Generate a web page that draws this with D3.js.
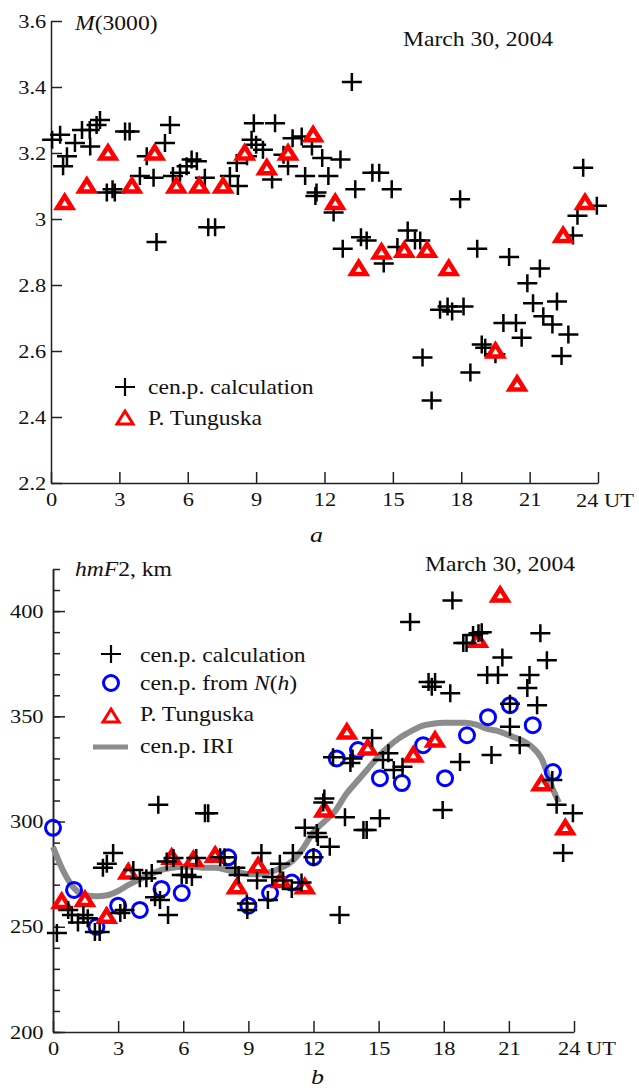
<!DOCTYPE html>
<html>
<head>
<meta charset="utf-8">
<script src="https://cdn.jsdelivr.net/npm/d3@7"></script>
<style>
  body { margin: 0; background: #fff; }
  text { font-family: "Liberation Serif", "DejaVu Serif", serif; fill: #111; }
</style>
</head>
<body>
<div id="chart-area"></div>
<script>
// ---- Data: panel a, M(3000) ----
const hoursA_calc = [0.05, 0.4, 0.53, 0.7, 1.05, 1.36, 1.7, 1.72, 2.0, 2.15, 2.45, 2.7, 2.8, 3.25, 3.45, 3.9, 4.2, 4.5, 4.63, 5.0,
  5.22, 5.35, 5.66, 5.95, 6.17, 6.4, 6.75, 6.9, 7.2, 7.85, 8.15, 8.2, 8.6, 8.8, 8.9, 9.0, 9.3, 9.7, 9.83, 10.2,
  10.4, 10.6, 11.0, 11.15, 11.45, 11.6, 11.65, 11.9, 12.17, 12.4, 12.7, 12.8, 13.2, 13.35, 13.6, 13.85, 14.1, 14.4, 14.6, 14.95,
  15.2, 15.65, 15.97, 16.2, 16.3, 16.7, 17.07, 17.4, 17.6, 17.95, 18.1, 18.4, 18.7, 18.9, 19.05, 19.5, 19.85, 20.1, 20.4, 20.65,
  20.9, 21.15, 21.45, 21.6, 22.0, 22.2, 22.4, 22.7, 22.9, 23.1, 23.35, 23.95]
const m3000_calc = [3.24, 3.255, 3.16, 3.19, 3.23, 3.27, 3.27, 3.22, 3.285, 3.30, 3.08, 3.09, 3.08, 3.265, 3.265, 3.13, 3.19, 3.125, 2.93, 3.23,
  3.285, 3.13, 3.14, 3.16, 3.18, 3.175, 3.125, 2.975, 2.975, 3.13, 3.17, 3.10, 3.19, 3.24, 3.29, 3.225, 3.21, 3.12, 3.29, 3.195,
  3.16, 3.245, 3.25, 3.13, 3.22, 3.07, 3.08, 3.185, 3.13, 3.02, 3.18, 2.91, 3.415, 3.09, 2.945, 2.935, 3.14, 3.14, 2.865, 3.09,
  2.915, 2.965, 2.935, 2.935, 2.58, 2.45, 2.725, 2.735, 2.72, 3.06, 2.735, 2.535, 2.91, 2.62, 2.61, 2.59, 2.685, 2.885, 2.685, 2.64,
  2.805, 2.745, 2.85, 2.705, 2.68, 2.75, 2.585, 2.65, 2.95, 3.01, 3.155, 3.04]

const hoursA_tung = [0.6, 1.57, 2.5, 3.55, 4.55, 5.5, 6.5, 7.55, 8.5, 9.47, 10.4, 11.5, 12.47, 13.5, 14.5, 15.5, 16.5, 17.45, 19.5, 20.45, 22.47, 23.43]
const m3000_tung = [3.05, 3.10, 3.20, 3.10, 3.20, 3.10, 3.10, 3.10, 3.20, 3.155, 3.20, 3.255, 3.05, 2.85, 2.90, 2.905, 2.905, 2.85, 2.60, 2.50, 2.95, 3.05]

// ---- Data: panel b, hmF2 ----
const hoursB_calc = [0.18, 0.7, 0.87, 1.15, 1.4, 1.6, 1.93, 2.15, 2.3, 2.48, 2.77, 3.1, 3.3, 3.7, 4.0, 4.3, 4.55, 4.7, 4.85, 4.93,
  5.24, 5.3, 5.55, 5.93, 6.15, 6.4, 6.6, 7.0, 7.15, 7.7, 7.9, 8.4, 8.55, 8.93, 8.95, 9.4, 9.6, 9.9, 10.1, 10.45,
  10.6, 11.0, 11.05, 11.45, 11.6, 12.0, 12.15, 12.2, 12.45, 12.5, 12.75, 12.9, 13.2, 13.45, 13.7, 13.8, 14.3, 14.45, 14.7, 15.06,
  15.2, 15.45, 15.7, 16.1, 16.45, 17.3, 17.45, 17.6, 17.95, 18.3, 18.4, 18.75, 18.9, 19.05, 19.35, 19.6, 19.75, 20.0, 20.2, 20.5,
  20.7, 21.05, 21.05, 21.5, 21.85, 21.95, 22.3, 22.45, 22.75, 23.0, 23.2, 23.5, 23.95]
const hmf2_calc = [247, 258, 255.6, 252, 255.6, 254, 247.5, 247.5, 278, 280, 285, 256.5, 258, 277, 273, 273, 275.5, 264, 308, 262.7,
  281, 255.6, 282.7, 274.6, 274.6, 273.6, 282.7, 304, 304, 283, 283, 278, 274.6, 261, 258, 272, 285, 262.7, 273.6, 280,
  272, 268, 285, 271, 297, 283, 294.5, 292.6, 309, 311, 288, 330.6, 255.6, 302, 327.8, 330, 296, 296, 339.7, 301.6,
  329.2, 332.5, 324.5, 326, 394.8, 366.3, 364, 366.3, 305.5, 361, 405, 328.3, 384.8, 384.8, 388.6, 389.5, 390, 369.6, 331.6, 369.6,
  378, 356, 345, 336.3, 363.4, 369.6, 355.3, 389.5, 376.7, 319.7, 308, 285, 304]

const hoursB_nh = [0, 0.97, 2.0, 3.0, 4.0, 5.0, 5.93, 8.07, 9.0, 10.0, 11.0, 12.0, 13.07, 14.05, 15.06, 16.07, 17.05, 18.06, 19.07, 20.04, 21.05, 22.1, 23.03]
const hmf2_nh = [297, 267.5, 250, 260, 258, 268, 266, 283, 260, 266, 271, 283, 330, 334, 320.6, 318.3, 336.3, 320.6, 341, 349.6, 355.3, 345.8, 323.5]

const hoursB_tung = [0.4, 1.47, 2.47, 3.47, 5.47, 6.47, 7.47, 8.47, 9.45, 10.5, 11.6, 12.5, 13.54, 14.5, 16.6, 17.6, 19.57, 20.6, 22.5, 23.6]
const hmf2_tung = [262, 263, 255, 276, 283, 282, 284, 269, 279, 272, 269, 305.5, 342.5, 335, 331.6, 338.7, 386.2, 407.6, 318, 297]

const hoursB_iri = [0, 0.5, 1, 1.5, 2, 2.5, 3, 3.5, 4, 4.5, 5, 5.5, 6, 6.5, 7, 7.5, 8, 8.5, 9, 9.5, 10, 10.5, 11, 11.5,
  12, 12.5, 13, 13.5, 14, 14.5, 15, 15.5, 16, 16.5, 17, 17.5, 18, 18.5, 19, 19.5, 20, 20.5, 21, 21.5, 22, 22.5, 23, 23.3]
const hmf2_iri = [288, 276, 268, 265, 264.5, 265, 267, 270, 272.5, 275, 277, 278, 278.5, 278.5, 278, 278, 277, 276, 275, 275, 276, 278, 281, 287,
  295, 300, 305, 313, 319, 325, 331, 336, 340, 343, 345.5, 346.5, 347, 347, 347, 346, 344, 343, 341, 339, 336, 330, 316, 309]

const hourTicks = [0, 3, 6, 9, 12, 15, 18, 21, 24]
const mTicks = [2.2, 2.4, 2.6, 2.8, 3.0, 3.2, 3.4, 3.6]
const hTicks = [200, 250, 300, 350, 400]
const hMinorTicks = d3.range(200, 421, 10)

// ---- Canvas ----
const W = 639, H = 1088
const stretch = "scale(1.18,1)"
const svg = d3.select("#chart-area").append("svg")
  .attr("width", W).attr("height", H)

const crossPath = "M-10,0H10M0,-9V9"
const triPath = "M0,-6.5L7.5,5.5L-7.5,5.5Z"

function label(x, y, parts, size, anchor) {
  const t = svg.append("text")
    .attr("transform", `translate(${x},${y}) ${stretch}`)
    .attr("font-size", size)
    .attr("text-anchor", anchor || "start")
  parts.forEach(p => {
    t.append("tspan").attr("font-style", p[1] ? "italic" : "normal").text(p[0])
  })
  return t
}

function styleAxis(g) {
  g.select(".domain").attr("stroke", "#222").attr("stroke-width", 1.5)
  g.selectAll(".tick line").attr("stroke", "#222").attr("stroke-width", 1.5)
  g.selectAll(".tick text")
    .attr("font-size", 19)
    .attr("fill", "#111")
    .attr("transform", stretch)
}

function drawCrosses(g, xs, ys, x, y) {
  g.append("g").selectAll("path").data(xs).join("path")
    .attr("d", crossPath)
    .attr("transform", (d, i) => `translate(${x(d)},${y(ys[i])})`)
    .attr("stroke", "#000").attr("stroke-width", 2.5).attr("fill", "none")
}

function drawTriangles(g, xs, ys, x, y) {
  g.append("g").selectAll("path").data(xs).join("path")
    .attr("d", triPath)
    .attr("transform", (d, i) => `translate(${x(d)},${y(ys[i])})`)
    .attr("stroke", "#ff0000").attr("stroke-width", 4.5).attr("fill", "#fff")
}

// ================= Panel a =================
const xa = d3.scaleLinear().domain([0, 24]).range([51, 598])
const ya = d3.scaleLinear().domain([2.2, 3.6]).range([483, 21])

const ga = svg.append("g")

ga.append("g")
  .attr("transform", `translate(0,${ya(2.2)})`)
  .call(d3.axisBottom(xa).tickValues(hourTicks).tickSizeInner(-11).tickSizeOuter(0).tickPadding(10)
    .tickFormat(d => d === 24 ? "" : d))
  .call(styleAxis)

ga.append("g")
  .attr("transform", `translate(${xa(0)},0)`)
  .call(d3.axisLeft(ya).tickValues(mTicks).tickSizeInner(-11).tickSizeOuter(0).tickPadding(4)
    .tickFormat(d => d === 3 ? "3" : d3.format(".1f")(d)))
  .call(styleAxis)

drawCrosses(ga, hoursA_calc, m3000_calc, xa, ya)
drawTriangles(ga, hoursA_tung, m3000_tung, xa, ya)

label(576, 507, [["24 UT", false]], 19)
label(75, 30, [["M", true], ["(3000)", false]], 20)
label(403, 46, [["March 30, 2004", false]], 20)
label(310, 542, [["a", true]], 22)

// legend a
ga.append("path").attr("d", crossPath).attr("transform", "translate(125,387)")
  .attr("stroke", "#000").attr("stroke-width", 2.2).attr("fill", "none")
ga.append("path").attr("d", "M0,-7L8,6L-8,6Z").attr("transform", "translate(125,418)")
  .attr("stroke", "#ff0000").attr("stroke-width", 3).attr("fill", "#fff")
label(148, 394, [["cen.p. calculation", false]], 20)
label(148, 425, [["P. Tunguska", false]], 20)

// ================= Panel b =================
const xb = d3.scaleLinear().domain([0, 24]).range([53, 574])
const yb = d3.scaleLinear().domain([200, 420]).range([1032, 569])

const gb = svg.append("g")

gb.append("g")
  .attr("transform", `translate(${xb(0)},0)`)
  .call(d3.axisLeft(yb).tickValues(hMinorTicks).tickSizeInner(-7).tickSizeOuter(0).tickFormat(""))
  .call(styleAxis)

gb.append("g")
  .attr("transform", `translate(${xb(0)},0)`)
  .call(d3.axisLeft(yb).tickValues(hTicks).tickSizeInner(-12).tickSizeOuter(0).tickPadding(8))
  .call(styleAxis)

gb.append("g")
  .attr("transform", `translate(0,${yb(200)})`)
  .call(d3.axisBottom(xb).tickValues(hourTicks).tickSizeInner(-11).tickSizeOuter(0).tickPadding(10)
    .tickFormat(d => d === 24 ? "" : d))
  .call(styleAxis)

// IRI curve
const iriLine = d3.line()
  .x((d, i) => xb(hoursB_iri[i]))
  .y(d => yb(d))
  .curve(d3.curveMonotoneX)
gb.append("path")
  .attr("d", iriLine(hmf2_iri))
  .attr("fill", "none").attr("stroke", "#8c8c8c").attr("stroke-width", 6)

// N(h) circles
gb.append("g").selectAll("circle").data(hoursB_nh).join("circle")
  .attr("cx", d => xb(d))
  .attr("cy", (d, i) => yb(hmf2_nh[i]))
  .attr("r", 7.5)
  .attr("fill", "none").attr("stroke", "#0000ff").attr("stroke-width", 3)

drawTriangles(gb, hoursB_tung, hmf2_tung, xb, yb)
drawCrosses(gb, hoursB_calc, hmf2_calc, xb, yb)

label(558, 1055, [["24 UT", false]], 19)
label(75, 576, [["hmF", true], ["2, km", false]], 20)
label(425, 571, [["March 30, 2004", false]], 20)
label(311, 1084, [["b", true]], 22)

// legend b
gb.append("path").attr("d", crossPath).attr("transform", "translate(111,654)")
  .attr("stroke", "#000").attr("stroke-width", 2.2).attr("fill", "none")
gb.append("circle").attr("cx", 111).attr("cy", 683).attr("r", 7.5)
  .attr("fill", "none").attr("stroke", "#0000ff").attr("stroke-width", 3)
gb.append("path").attr("d", "M0,-7L8,6L-8,6Z").attr("transform", "translate(111,716)")
  .attr("stroke", "#ff0000").attr("stroke-width", 3).attr("fill", "#fff")
gb.append("line").attr("x1", 93).attr("x2", 128).attr("y1", 747).attr("y2", 747)
  .attr("stroke", "#8c8c8c").attr("stroke-width", 5)
label(140, 662, [["cen.p. calculation", false]], 20)
label(140, 690, [["cen.p. from ", false], ["N", true], ["(", false], ["h", true], [")", false]], 20)
label(140, 721, [["P. Tunguska", false]], 20)
label(140, 753, [["cen.p. IRI", false]], 20)
</script>
</body>
</html>
